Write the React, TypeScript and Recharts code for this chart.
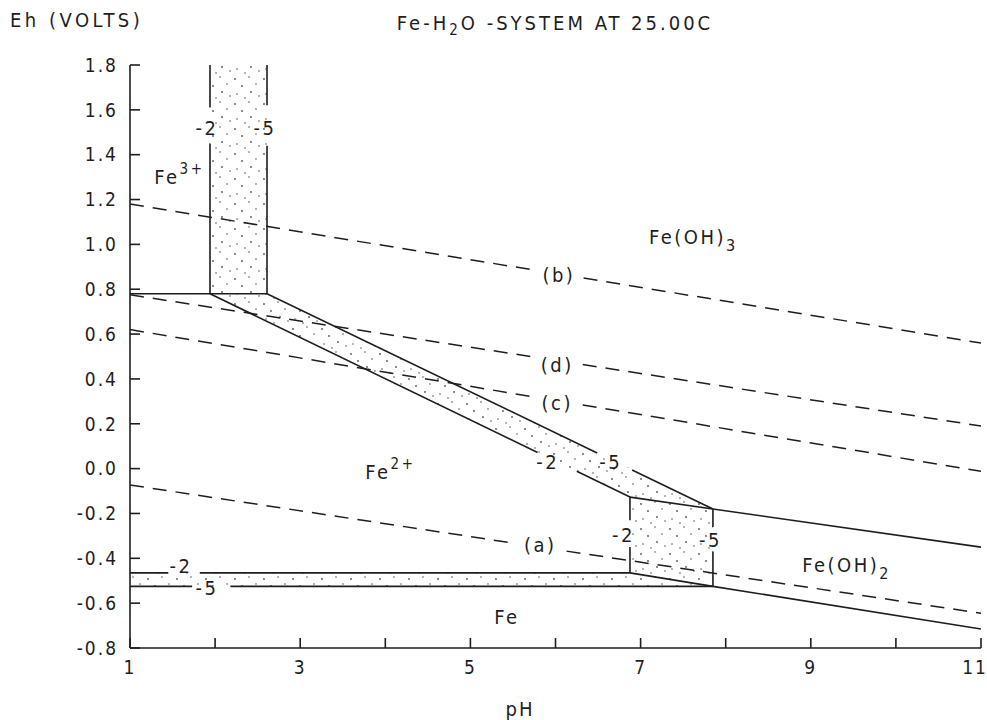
import React from "react";
import { ComposedChart, XAxis, YAxis, Line, Area, ReferenceDot, Label } from "recharts";

const FONT = "'DejaVu Sans Condensed', 'DejaVu Sans', sans-serif";
const INK = "#1e1e1e";

const PH_TICKS = [1, 2, 3, 4, 5, 6, 7, 8, 9, 10, 11];
const EH_TICKS = [-0.8, -0.6, -0.4, -0.2, 0, 0.2, 0.4, 0.6, 0.8, 1.0, 1.2, 1.4, 1.6, 1.8];

type Pt = [number, number | null];
type Band = [number, number, number];

// solid boundaries, [pH, Eh]; a null Eh leaves a gap where a label sits
const FE3_FE2: Pt[] = [[1, 0.78], [2.61, 0.78]];
const FE3_WALL_2: Pt[] = [[1.94, 0.78], [1.94, 1.45], [1.94, null], [1.94, 1.61], [1.94, 1.8]];
const FE3_WALL_5: Pt[] = [[2.61, 0.78], [2.61, 1.44], [2.61, null], [2.61, 1.62], [2.61, 1.8]];
const FE2_FEOH3_2: Pt[] = [[1.94, 0.78], [5.79, 0.072], [6.02, null], [6.25, -0.012], [6.875, -0.127]];
const FE2_FEOH3_5: Pt[] = [[2.61, 0.78], [6.49, 0.07], [6.7, null], [6.9, -0.006], [7.85, -0.18]];
const FEOH3_FEOH2: Pt[] = [[6.875, -0.127], [7.85, -0.18], [11, -0.35]];
const FE2_FEOH2_2: Pt[] = [[6.875, -0.127], [6.875, -0.23], [6.875, null], [6.875, -0.35], [6.875, -0.465]];
const FE2_FEOH2_5: Pt[] = [[7.85, -0.18], [7.85, -0.26], [7.85, null], [7.85, -0.37], [7.85, -0.525]];
const FE2_FE_2: Pt[] = [[1, -0.465], [1.45, -0.465], [1.63, null], [1.82, -0.465], [6.875, -0.465], [7.85, -0.525]];
const FE2_FE_5: Pt[] = [[1, -0.525], [1.73, -0.525], [1.95, null], [2.18, -0.525], [7.85, -0.525], [11, -0.715]];

// dashed lines (a)-(d)
const LINE_A: Pt[] = [[1, -0.073], [5.5, -0.332], [5.8, null], [6.13, -0.368], [11, -0.645]];
const LINE_B: Pt[] = [[1, 1.18], [5.74, 0.886], [6.03, null], [6.33, 0.85], [11, 0.56]];
const LINE_C: Pt[] = [[1, 0.62], [5.74, 0.32], [6.03, null], [6.32, 0.284], [11, -0.012]];
const LINE_D: Pt[] = [[1, 0.775], [5.74, 0.498], [6.03, null], [6.32, 0.464], [11, 0.19]];

// stippled transition bands, [pH, low Eh, high Eh]
const BAND_FE3: Band[] = [[1.94, 0.78, 1.8], [2.61, 0.78, 1.8]];
const BAND_SLOPE: Band[] = [[1.94, 0.78, 0.78], [2.61, 0.657, 0.78], [6.875, -0.127, 0.0], [7.85, -0.18, -0.18]];
const BAND_BOX: Band[] = [[6.875, -0.465, -0.127], [7.85, -0.525, -0.18]];
const BAND_FE: Band[] = [[1, -0.525, -0.465], [6.875, -0.525, -0.465], [7.85, -0.525, -0.525]];

const SOLID = [FE3_FE2, FE3_WALL_2, FE3_WALL_5, FE2_FEOH3_2, FE2_FEOH3_5, FEOH3_FEOH2, FE2_FEOH2_2, FE2_FEOH2_5, FE2_FE_2, FE2_FE_5];
const DASHED = [LINE_A, LINE_B, LINE_C, LINE_D];
const BANDS = [BAND_FE3, BAND_SLOPE, BAND_BOX, BAND_FE];

const TAGS = [
  { main: "Fe", sup: "3+", ph: 1.58, eh: 1.3 },
  { main: "Fe(OH)", sub: "3", ph: 7.62, eh: 1.033 },
  { main: "Fe", sup: "2+", ph: 4.06, eh: -0.015 },
  { main: "Fe(OH)", sub: "2", ph: 9.42, eh: -0.43 },
  { main: "Fe", ph: 5.43, eh: -0.662 },
  { main: "(b)", ph: 6.04, eh: 0.863 },
  { main: "(d)", ph: 6.02, eh: 0.462 },
  { main: "(c)", ph: 6.02, eh: 0.292 },
  { main: "(a)", ph: 5.82, eh: -0.341 },
  { main: "-2", ph: 1.905, eh: 1.519 },
  { main: "-5", ph: 2.586, eh: 1.519 },
  { main: "-2", ph: 5.91, eh: 0.029 },
  { main: "-5", ph: 6.65, eh: 0.029 },
  { main: "-2", ph: 6.8, eh: -0.296 },
  { main: "-5", ph: 7.82, eh: -0.319 },
  { main: "-2", ph: 1.6, eh: -0.435 },
  { main: "-5", ph: 1.905, eh: -0.533 },
];

const toRows = (pts: Pt[]) => pts.map(([ph, eh]) => ({ ph, eh }));
const toBand = (b: Band[]) => b.map(([ph, lo, hi]) => ({ ph, range: [lo, hi] }));

const textProps = { fontFamily: FONT, fontStretch: "condensed", fill: INK } as const;

function Tag({ viewBox, main, sup, sub }: any) {
  const { x, y } = viewBox;
  return (
    <text x={x} y={y} textAnchor="middle" dominantBaseline="central" fontSize={20} letterSpacing={2.5} {...textProps}>
      {main}
      {sup && <tspan dy={-8} fontSize={15}>{sup}</tspan>}
      {sub && <tspan dy={8} fontSize={16}>{sub}</tspan>}
    </text>
  );
}

// only odd pH values are labelled; the last one is pulled in to stay on the page
function PhTick({ x, y, payload }: any) {
  const v = payload.value as number;
  if (v % 2 === 0) return <g />;
  return (
    <text x={v === 11 ? x - 6 : x} y={y + 14} textAnchor="middle" fontSize={19} letterSpacing={2} {...textProps}>
      {v}
    </text>
  );
}

const noTick = () => <g />;
const tickStyle = { fontSize: 19, letterSpacing: 2, ...textProps };

export default function App() {
  const html = { position: "absolute" as const, fontSize: 20, fontStretch: "condensed", whiteSpace: "nowrap" as const };
  return (
    <div style={{ position: "absolute", left: 0, top: 0, width: 987, height: 720, background: "#fff", fontFamily: FONT, color: INK }}>
      <div style={{ ...html, left: 10, top: 8, letterSpacing: 3.5 }}>Eh (VOLTS)</div>
      <div style={{ ...html, left: 355, top: 11, width: 400, textAlign: "center", letterSpacing: 3 }}>
        Fe-H<sub style={{ fontSize: 15 }}>2</sub>O -SYSTEM AT 25.00C
      </div>
      <div style={{ ...html, left: 480, top: 697, width: 80, textAlign: "center", letterSpacing: 2 }}>pH</div>
      <ComposedChart width={987} height={720} margin={{ top: 65, right: 6, bottom: 32, left: 70 }}>
        <defs>
          <pattern id="stipple" width="29" height="25" patternUnits="userSpaceOnUse">
            <circle cx="3" cy="4" r="0.9" fill="#555" />
            <circle cx="17" cy="2" r="0.8" fill="#555" />
            <circle cx="10" cy="11" r="0.9" fill="#555" />
            <circle cx="24" cy="9" r="0.8" fill="#555" />
            <circle cx="5" cy="19" r="0.8" fill="#555" />
            <circle cx="19" cy="17" r="0.9" fill="#555" />
            <circle cx="13" cy="23" r="0.8" fill="#555" />
            <circle cx="27" cy="21" r="0.8" fill="#555" />
          </pattern>
        </defs>
        <XAxis xAxisId={0} dataKey="ph" type="number" domain={[1, 11]} ticks={PH_TICKS} interval={0}
          allowDataOverflow height={40} tickSize={-10} tickMargin={22}
          stroke={INK} strokeWidth={1.6} tick={PhTick} />
        <XAxis xAxisId="top" orientation="top" dataKey="ph" type="number" domain={[1, 11]} ticks={PH_TICKS}
          interval={0} allowDataOverflow height={0} tickSize={-10} tick={noTick} stroke={INK} strokeWidth={1.6} />
        <YAxis yAxisId={0} type="number" domain={[-0.8, 1.8]} ticks={EH_TICKS} interval={0} allowDataOverflow
          width={60} tickSize={-10} tickMargin={22} tickFormatter={(v: number) => v.toFixed(1)}
          stroke={INK} strokeWidth={1.6} tick={tickStyle} />
        <YAxis yAxisId="right" orientation="right" type="number" domain={[-0.8, 1.8]} ticks={EH_TICKS}
          interval={0} allowDataOverflow width={0} tickSize={-10} tick={noTick} stroke={INK} strokeWidth={1.6} />

        {BANDS.map((b, i) => (
          <Area key={"band" + i} data={toBand(b)} dataKey="range" type="linear" stroke="none"
            fill="url(#stipple)" fillOpacity={1} dot={false} activeDot={false} isAnimationActive={false} />
        ))}
        {DASHED.map((d, i) => (
          <Line key={"dash" + i} data={toRows(d)} dataKey="eh" type="linear" stroke={INK} strokeWidth={1.5}
            strokeDasharray="14 9" dot={false} activeDot={false} isAnimationActive={false} />
        ))}
        {SOLID.map((d, i) => (
          <Line key={"solid" + i} data={toRows(d)} dataKey="eh" type="linear" stroke={INK} strokeWidth={1.6}
            dot={false} activeDot={false} isAnimationActive={false} />
        ))}
        {TAGS.map((t, i) => (
          <ReferenceDot key={"tag" + i} x={t.ph} y={t.eh} r={0} fill="none" stroke="none" ifOverflow="visible">
            <Label content={(p: any) => <Tag viewBox={p.viewBox} main={t.main} sup={t.sup} sub={t.sub} />} />
          </ReferenceDot>
        ))}
      </ComposedChart>
    </div>
  );
}
